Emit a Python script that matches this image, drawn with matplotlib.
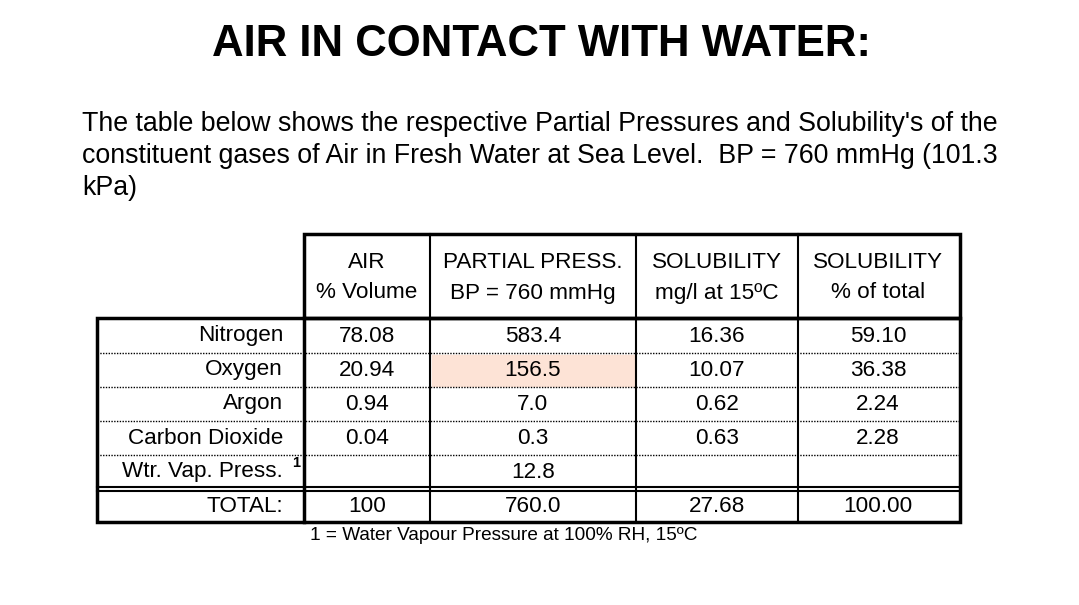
import matplotlib
matplotlib.use("Agg")
import matplotlib.pyplot as plt
from matplotlib.patches import Rectangle

title = "AIR IN CONTACT WITH WATER:"
para = ["The table below shows the respective Partial Pressures and Solubility's of the",
        "constituent gases of Air in Fresh Water at Sea Level.  BP = 760 mmHg (101.3",
        "kPa)"]
headers = [("AIR", "% Volume"), ("PARTIAL PRESS.", "BP = 760 mmHg"),
           ("SOLUBILITY", "mg/l at 15ºC"), ("SOLUBILITY", "% of total")]
rows = ["Nitrogen", "Oxygen", "Argon", "Carbon Dioxide", "Wtr. Vap. Press."]
air = ["78.08", "20.94", "0.94", "0.04", ""]
pp = ["583.4", "156.5", "7.0", "0.3", "12.8"]
sol = ["16.36", "10.07", "0.62", "0.63", ""]
pct = ["59.10", "36.38", "2.24", "2.28", ""]
totals = ["100", "760.0", "27.68", "100.00"]
footnote = "1 = Water Vapour Pressure at 100% RH, 15ºC"

plt.rcParams['font.family'] = ['Liberation Sans', 'DejaVu Sans']
fig = plt.figure(figsize=(10.79, 6.05), dpi=100)
ax = fig.add_axes([0, 0, 1, 1])
ax.set_xlim(0, 1079); ax.set_ylim(605, 0); ax.axis('off')

ax.text(541, 44, title, ha='center', va='center', fontsize=31.5, fontweight='bold')
for i, line in enumerate(para):
    ax.text(82, 124 + 32*i, line, ha='left', va='center', fontsize=19.3)

k = 'black'
ax.add_patch(Rectangle((432, 355), 202, 31, color='#fde3d6', zorder=0))
ax.add_patch(Rectangle((304, 234), 656, 84, fill=False, lw=2.5, ec=k))
ax.add_patch(Rectangle((97, 318), 863, 204, fill=False, lw=2.5, ec=k))
ax.plot([304, 304], [318, 522], color=k, lw=2.5)
for x in [430, 636, 798]:
    ax.plot([x, x], [234, 522], color=k, lw=1.5)
for y in [353, 387, 421, 455]:
    ax.plot([97, 960], [y, y], color=k, lw=1, ls=(0, (1, 1)))
ax.plot([97, 960], [487, 487], color=k, lw=1.5)
ax.plot([97, 960], [491, 491], color=k, lw=1.5)

cx = [367, 533, 717, 878]
fs = 16.2
for j, (a, b) in enumerate(headers):
    ax.text(cx[j], 262, a, ha='center', va='center', fontsize=fs)
    ax.text(cx[j], 293, b, ha='center', va='center', fontsize=fs)
ys = [336, 370, 404, 438, 472]
for i, r in enumerate(rows):
    ax.text(283, ys[i], r, ha='right', va='center', fontsize=fs)
    for j, col in enumerate([air, pp, sol, pct]):
        ax.text(cx[j], ys[i], col[i], ha='center', va='center', fontsize=fs)
ax.text(296, 463, "1", ha='center', va='center', fontsize=10.5, fontweight='bold')
ax.text(283, 506, "TOTAL:", ha='right', va='center', fontsize=fs)
for j, t in enumerate(totals):
    ax.text(cx[j], 506, t, ha='center', va='center', fontsize=fs)
ax.text(310, 536, footnote, ha='left', va='center', fontsize=13.7)

fig.savefig("out.png", dpi=100)
